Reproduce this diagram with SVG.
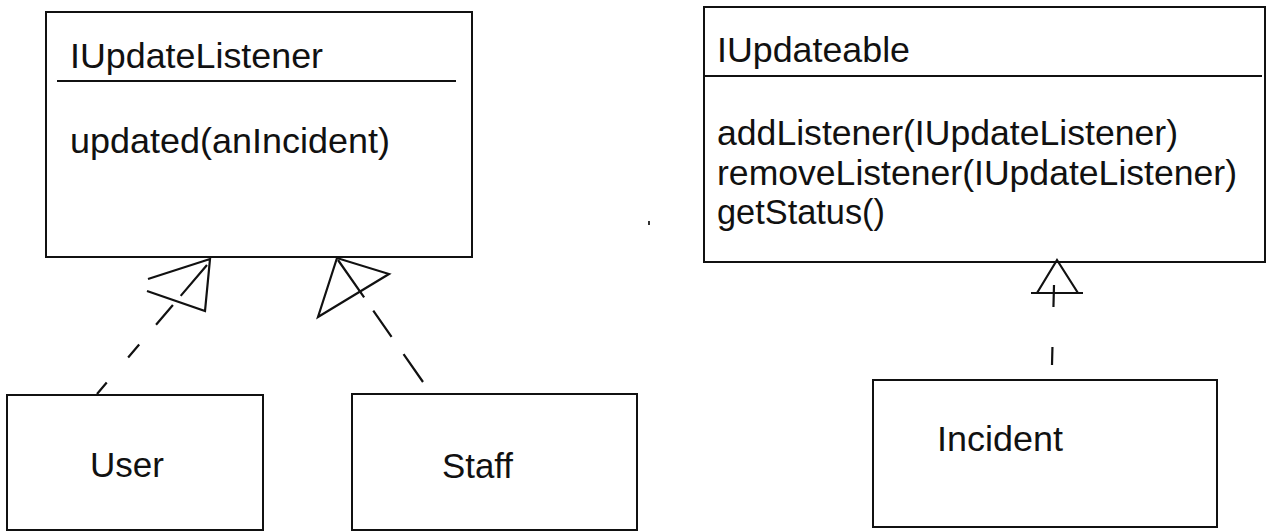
<svg xmlns="http://www.w3.org/2000/svg" width="1275" height="531" viewBox="0 0 1275 531">
<style>
  .box { fill: #fff; stroke: #111; stroke-width: 2; }
  .div { stroke: #111; stroke-width: 2; }
  .t { font-family: "Liberation Sans", Arial, sans-serif; font-size: 35px; fill: #111; }
  .edge { fill: none; stroke: #111; stroke-width: 2.2; }
  .head { fill: none; stroke: #111; stroke-width: 2.2; stroke-linejoin: miter; }
</style>
<rect width="1275" height="531" fill="#fff"/>

<g id="IUpdateListener">
  <rect class="box" x="46" y="12" width="426" height="245"/>
  <line class="div" x1="57" y1="81" x2="456" y2="81"/>
  <text class="t" x="70" y="68" textLength="253" lengthAdjust="spacingAndGlyphs">IUpdateListener</text>
  <text class="t" x="70" y="153" textLength="320" lengthAdjust="spacingAndGlyphs">updated(anIncident)</text>
</g>

<g id="IUpdateable">
  <rect class="box" x="704" y="7" width="561" height="255"/>
  <line class="div" x1="704" y1="76" x2="1262" y2="76"/>
  <text class="t" x="717" y="62" textLength="193" lengthAdjust="spacingAndGlyphs">IUpdateable</text>
  <text class="t" x="717" y="145" textLength="461" lengthAdjust="spacingAndGlyphs">addListener(IUpdateListener)</text>
  <text class="t" x="717" y="185" textLength="520" lengthAdjust="spacingAndGlyphs">removeListener(IUpdateListener)</text>
  <text class="t" x="717" y="224" textLength="168" lengthAdjust="spacingAndGlyphs">getStatus()</text>
</g>

<g id="User">
  <rect class="box" x="7" y="395" width="256" height="135"/>
  <text class="t" x="90" y="477" textLength="74" lengthAdjust="spacingAndGlyphs">User</text>
</g>

<g id="Staff">
  <rect class="box" x="352" y="394" width="285" height="136"/>
  <text class="t" x="442" y="478" textLength="71" lengthAdjust="spacingAndGlyphs">Staff</text>
</g>

<g id="Incident">
  <rect class="box" x="873" y="380" width="344" height="147"/>
  <text class="t" x="937" y="451" textLength="126" lengthAdjust="spacingAndGlyphs">Incident</text>
</g>

<g id="connectors">
  <!-- User realizes IUpdateListener -->
  <path class="edge" d="M97,394 L207,265" stroke-dasharray="15 33 17 26 26 12 50"/>
  <polyline class="head" points="148,279 210,259 205,311 147,291"/>
  <!-- Staff realizes IUpdateListener -->
  <path class="edge" d="M423,382 L338,260" stroke-dasharray="34 21 32 16 60"/>
  <polygon class="head" points="337,258 318,317 389,274"/>
  <!-- Incident realizes IUpdateable -->
  <path class="edge" d="M1052,365 L1054,285" stroke-dasharray="18 40 22 100"/>
  <polyline class="head" points="1037,293 1057,260 1078,293"/>
  <line class="head" x1="1031" y1="293" x2="1083" y2="293"/>
</g>

<rect x="648" y="221" width="2" height="4" fill="#333"/>
</svg>
